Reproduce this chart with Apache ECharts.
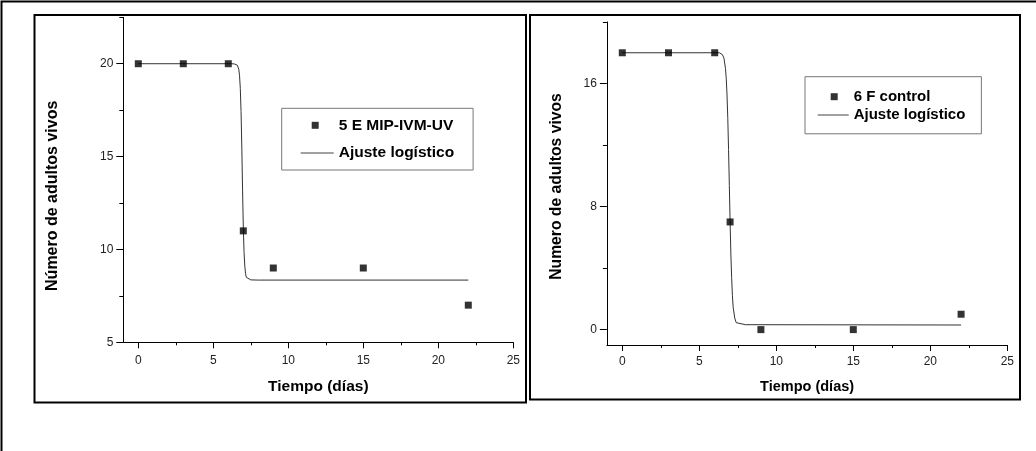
<!DOCTYPE html>
<html>
<head>
<meta charset="utf-8">
<script src="https://cdn.jsdelivr.net/npm/echarts@6/dist/echarts.min.js"></script>
<style>
html,body{margin:0;padding:0;background:#fff;}
#chart{width:1036px;height:451px;}
</style>
</head>
<body>
<div id="chart"></div>
<script>
// ---- data ----
const diasMuestreo = [0, 3, 6, 7, 9, 15, 22];
const vivos5E = [20, 20, 20, 11, 9, 9, 7];
const vivos6F = [18, 18, 18, 7, 0, 0, 1];

// fitted logistic curves
const ajuste5E_x = [0, 6.2, 6.4, 6.5, 6.6, 6.7, 6.75, 6.8, 6.85, 6.9, 6.95, 7.0, 7.05, 7.1, 7.15, 7.2, 7.3, 7.5, 8, 22];
const ajuste5E_y = [20, 20, 19.99, 19.98, 19.92, 19.7, 19.35, 18.67, 17.42, 15.51, 13.25, 11.2, 9.85, 9.1, 8.7, 8.5, 8.4, 8.36, 8.35, 8.35];
const ajuste6F_x = [0, 6.3, 6.4, 6.5, 6.6, 6.7, 6.75, 6.8, 6.85, 6.9, 6.95, 7.0, 7.05, 7.1, 7.15, 7.2, 7.3, 7.4, 7.5, 8, 22];
const ajuste6F_y = [18, 18, 17.96, 17.88, 17.65, 16.98, 16.31, 15.25, 13.73, 11.71, 9.37, 7.0, 4.92, 3.4, 2.2, 1.45, 0.75, 0.45, 0.36, 0.32, 0.3];

// tick values
const xMajorTicks = [0, 5, 10, 15, 20, 25];
const xMinorTicks = [2.5, 7.5, 12.5, 17.5, 22.5];
const y5EMajorTicks = [5, 10, 15, 20];
const y5EMinorTicks = [7.5, 12.5, 17.5, 22.5];
const y6FMajorTicks = [0, 8, 16];
const y6FMinorTicks = [4, 12, 20];

const nombre5E = '5 E MIP-IVM-UV';
const nombre6F = '6 F control';
const nombreAjuste = 'Ajuste logístico';
const tituloX = 'Tiempo (días)';
const tituloY5E = 'Número de adultos vivos';
const tituloY6F = 'Numero de adultos vivos';

const FONT = '"Liberation Sans", Arial, sans-serif';
const zip = (a, b) => a.map((v, i) => [v, b[i]]);

function majorX(grid, nameGap, nameSize, labelMargin) {
  return {
    type: 'value', gridIndex: grid, min: -1, max: 25, position: 'bottom',
    name: tituloX, nameLocation: 'middle', nameGap: nameGap,
    nameTextStyle: {fontFamily: FONT, fontWeight: 'bold', fontSize: nameSize, color: '#000'},
    axisLine: {show: true, onZero: false, lineStyle: {color: '#000', width: 1}},
    axisTick: {show: true, inside: false, length: 6, customValues: xMajorTicks, lineStyle: {color: '#000', width: 1}},
    axisLabel: {show: true, customValues: xMajorTicks, margin: labelMargin, fontFamily: FONT, fontSize: 12, color: '#222'},
    splitLine: {show: false}
  };
}
function minorX(grid) {
  return {
    type: 'value', gridIndex: grid, min: -1, max: 25, position: 'bottom',
    axisLine: {show: false, onZero: false},
    axisTick: {show: true, inside: false, length: 3, customValues: xMinorTicks, lineStyle: {color: '#000', width: 1}},
    axisLabel: {show: false}, splitLine: {show: false}
  };
}
function majorY(grid, min, max, ticks, name, nameGap, nameSize, namePad) {
  return {
    type: 'value', gridIndex: grid, min: min, max: max, position: 'left',
    name: name, nameLocation: 'middle', nameGap: nameGap,
    nameTextStyle: {fontFamily: FONT, fontWeight: 'bold', fontSize: nameSize, color: '#000', padding: namePad},
    axisLine: {show: true, onZero: false, lineStyle: {color: '#000', width: 1}},
    axisTick: {show: true, inside: false, length: 7, customValues: ticks, lineStyle: {color: '#000', width: 1}},
    axisLabel: {show: true, customValues: ticks, margin: 10, fontFamily: FONT, fontSize: 12, color: '#222'},
    splitLine: {show: false}
  };
}
function minorY(grid, min, max, ticks) {
  return {
    type: 'value', gridIndex: grid, min: min, max: max, position: 'left',
    axisLine: {show: false, onZero: false},
    axisTick: {show: true, inside: false, length: 4, customValues: ticks, lineStyle: {color: '#000', width: 1}},
    axisLabel: {show: false}, splitLine: {show: false}
  };
}

// legend icons: a small square marker and a thin line sample
const iconSquareL = 'path://M0,0M33,7M11,0h7v7h-7z';
const iconLineL = 'path://M0,0M33,7M0,3h33v1h-33z';
const iconSquareR = 'path://M0,0M31,7M13,0h7v7h-7z';
const iconLineR = 'path://M0,0M31,7M0,3h31v1h-31z';

const chart = echarts.init(document.getElementById('chart'), null, {renderer: 'canvas'});
chart.setOption({
  animation: false,
  backgroundColor: '#fff',
  textStyle: {fontFamily: FONT},
  graphic: [
    {type: 'rect', z: 0, silent: true, shape: {x: 1.5, y: 1.5, width: 1060, height: 480}, style: {fill: 'none', stroke: '#000', lineWidth: 2}},
    {type: 'rect', z: 0, silent: true, shape: {x: 34.5, y: 15, width: 491.5, height: 387.5}, style: {fill: 'none', stroke: '#000', lineWidth: 2}},
    {type: 'rect', z: 0, silent: true, shape: {x: 530, y: 15, width: 490, height: 384.5}, style: {fill: 'none', stroke: '#000', lineWidth: 2}}
  ],
  grid: [
    {left: 123.3, top: 17.3, width: 390, height: 325, containLabel: false},
    {left: 606.9, top: 22, width: 400.4, height: 323, containLabel: false}
  ],
  xAxis: [
    majorX(0, 36.5, 15.5, 12),
    minorX(0),
    majorX(1, 34.5, 14.5, 11),
    minorX(1)
  ],
  yAxis: [
    majorY(0, 5, 22.5, y5EMajorTicks, tituloY5E, 63, 16, [0, 32, 0, 0]),
    minorY(0, 5, 22.5, y5EMinorTicks),
    majorY(1, -1, 20, y6FMajorTicks, tituloY6F, 42, 15.7, [0, 6, 0, 0]),
    minorY(1, -1, 20, y6FMinorTicks)
  ],
  legend: [
    {
      orient: 'vertical', left: 281.7, top: 108.3,
      padding: [9, 19, 9, 19], itemGap: 11.7, itemWidth: 33, itemHeight: 7,
      borderColor: '#777', borderWidth: 1, backgroundColor: '#fff',
      selectedMode: false,
      textStyle: {fontFamily: FONT, fontWeight: 'bold', fontSize: 15.5, color: '#000'},
      data: [
        {name: nombre5E, icon: iconSquareL, itemStyle: {color: '#000'}},
        {name: nombreAjuste, icon: iconLineL, itemStyle: {color: '#444'}}
      ]
    },
    {
      orient: 'vertical', left: 805, top: 76.7,
      padding: [12.5, 16, 11.3, 12.7], itemGap: 3.3, itemWidth: 31, itemHeight: 7,
      borderColor: '#777', borderWidth: 1, backgroundColor: '#fff',
      selectedMode: false,
      textStyle: {fontFamily: FONT, fontWeight: 'bold', fontSize: 15, color: '#000'},
      data: [
        {name: nombre6F, icon: iconSquareR, itemStyle: {color: '#000'}},
        {name: nombreAjuste, icon: iconLineR, itemStyle: {color: '#444'}}
      ]
    }
  ],
  series: [
    {
      name: nombreAjuste, type: 'line', xAxisIndex: 0, yAxisIndex: 0,
      data: zip(ajuste5E_x, ajuste5E_y), symbol: 'none', smooth: false,
      lineStyle: {color: '#333', width: 1}, itemStyle: {color: '#333'}, z: 2
    },
    {
      name: nombre5E, type: 'scatter', xAxisIndex: 0, yAxisIndex: 0,
      data: zip(diasMuestreo, vivos5E), symbol: 'rect', symbolSize: 7,
      itemStyle: {color: '#000'}, z: 3
    },
    {
      name: nombreAjuste, type: 'line', xAxisIndex: 2, yAxisIndex: 2,
      data: zip(ajuste6F_x, ajuste6F_y), symbol: 'none', smooth: false,
      lineStyle: {color: '#333', width: 1}, itemStyle: {color: '#333'}, z: 2
    },
    {
      name: nombre6F, type: 'scatter', xAxisIndex: 2, yAxisIndex: 2,
      data: zip(diasMuestreo, vivos6F), symbol: 'rect', symbolSize: 7,
      itemStyle: {color: '#000'}, z: 3
    }
  ]
});
</script>
</body>
</html>
